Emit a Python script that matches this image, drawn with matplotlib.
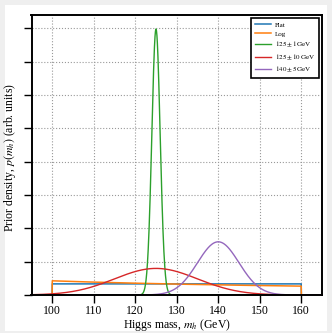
import numpy as np
import matplotlib
matplotlib.use('Agg')
import matplotlib.pyplot as plt
from matplotlib.patches import Rectangle

plt.rcParams['font.family'] = 'serif'
plt.rcParams['font.serif'] = ['Liberation Serif', 'DejaVu Serif']
plt.rcParams['mathtext.fontset'] = 'stix'

# prior range for flat / log priors (GeV)
m_lo, m_hi = 100.0, 160.0
# gaussian priors: labels, centres, widths (GeV)
gauss_labels = [r'$125 \pm 1\,\mathrm{GeV}$', r'$125 \pm 10\,\mathrm{GeV}$', r'$140 \pm 5\,\mathrm{GeV}$']
gauss_mu = [125.0, 125.0, 140.0]
gauss_sigma = [1.0, 10.0, 5.0]
colors = ['tab:blue', 'tab:orange', 'tab:green', 'tab:red', 'tab:purple']

fig = plt.figure(figsize=(3.32, 3.33), dpi=100)
fig.patch.set_facecolor('#efefef')
fig.patches.append(Rectangle((5/332, 2/333), 322/332, 326/333, transform=fig.transFigure,
                             facecolor='white', edgecolor='none', zorder=-10))
ax = fig.add_axes([31.5/332, 38/333, 290.5/332, 280/333])
ax.set_zorder(5)

m = np.linspace(95, 165, 2000)

# flat prior
flat = np.where((m >= m_lo) & (m <= m_hi), 1.0/(m_hi - m_lo), 0.0)
ax.plot(m, flat, color=colors[0], lw=1.1, label='Flat')
# log prior
logp = np.where((m >= m_lo) & (m <= m_hi), 1.0/(m*np.log(m_hi/m_lo)), 0.0)
ax.plot(m, logp, color=colors[1], lw=1.1, label='Log')

for lab, mu, sg, c in zip(gauss_labels, gauss_mu, gauss_sigma, colors[2:]):
    g = np.exp(-0.5*((m - mu)/sg)**2)/(sg*np.sqrt(2*np.pi))
    ax.plot(m, g, color=c, lw=1.0, label=lab)

ax.set_xlim(95, 165)
ax.set_ylim(0, 0.42)
ax.set_xticks([100, 110, 120, 130, 140, 150, 160])
ax.set_yticks(np.arange(0, 0.41, 0.05))
ax.set_yticklabels([])
ax.tick_params(axis='both', direction='out', length=5.5, width=1, labelsize=8.5, pad=2)
ax.grid(True, ls=':', color='#999999', lw=0.8)
for s in ax.spines.values():
    s.set_linewidth(1.4)
ax.set_xlabel(r'Higgs mass, $m_h$ (GeV)', fontsize=8.5, labelpad=0)
ax.set_ylabel(r'Prior density, $p(m_h)$ (arb. units)', fontsize=8.5)
ax.yaxis.set_label_coords(-0.045, 0.49)

leg = ax.legend(loc='upper right', fontsize=5, fancybox=False, framealpha=1,
                edgecolor='black', handlelength=2.3, handletextpad=0.6,
                borderpad=0.5, labelspacing=0.45)
leg.get_frame().set_linewidth(1.2)

fig.savefig('out.png', dpi=100, facecolor=fig.get_facecolor())
